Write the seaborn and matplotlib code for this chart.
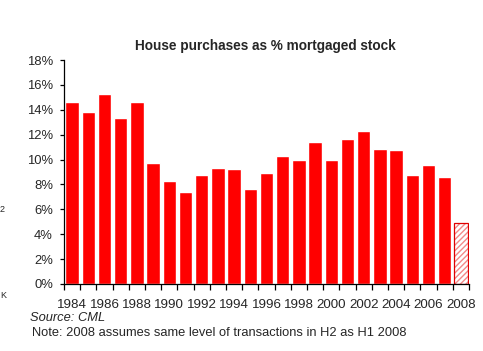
import matplotlib
matplotlib.use("Agg")
import matplotlib.pyplot as plt
import seaborn as sns
import pandas as pd
import numpy as np
from matplotlib.ticker import PercentFormatter, FixedLocator

years = [str(y) for y in range(1984, 2009)]
values = [14.65, 13.85, 15.3, 13.35, 14.65, 9.75, 8.3, 7.42, 8.76, 9.35, 9.25, 7.65,
          8.92, 10.3, 9.97, 11.42, 9.97, 11.66, 12.33, 10.85, 10.77, 8.76, 9.57, 8.63, 4.88]
title = "House purchases as % mortgaged stock"
source = "Source: CML"
note = "Note: 2008 assumes same level of transactions in H2 as H1 2008"

sns.set_style("white")
plt.rcParams['font.family'] = ['Liberation Sans', 'DejaVu Sans']

df = pd.DataFrame({"year": years, "value": values})

fig = plt.figure(figsize=(4.83, 3.51), dpi=100)
ax = fig.add_axes([64/483, 1-284/351, (469-64)/483, (284-60)/351])

sns.barplot(data=df, x="year", y="value", color="#ff0000", saturation=1, width=0.82, ax=ax)

# last bar: hatched estimate
last = ax.patches[-1]
x0, w, h = last.get_x(), last.get_width(), last.get_height()
last.set_facecolor("white")
last.set_edgecolor("#f28a8a")
last.set_hatch("//////")
last.set_linewidth(0)
ax.bar(x0 + w/2, h, width=w, facecolor="none", edgecolor="#e00000", linewidth=0.9)

ax.set_ylim(0, 18)
ax.set_xlim(-0.5, len(years) - 0.5)
ax.yaxis.set_major_locator(FixedLocator(np.arange(0, 19, 2)))
ax.yaxis.set_major_formatter(PercentFormatter(decimals=0))

n = len(years)
ax.set_xticks(np.arange(n + 1) - 0.5)
ax.set_xticklabels([])
ax.set_xticks(np.arange(0, n, 2), minor=True)
ax.set_xticklabels(years[::2], minor=True)
ax.tick_params(axis="x", which="major", length=4, width=0.9, direction="out", bottom=True, color="black")
ax.tick_params(axis="x", which="minor", length=0, labelsize=9.6, pad=10.5, bottom=True)
ax.tick_params(axis="y", length=3, width=0.9, direction="out", left=True, labelsize=9.4, pad=5, color="black")

for s in ["top", "right"]:
    ax.spines[s].set_visible(False)
for s in ["left", "bottom"]:
    ax.spines[s].set_color("black")
    ax.spines[s].set_linewidth(0.9)

ax.set_xlabel("")
ax.set_ylabel("")

fig.text(265/483, 1-46/351, title, ha="center", va="center", fontsize=9.8, fontweight="bold")
fig.text(30/483, 1-318/351, source, ha="left", va="center", fontsize=9.3, style="italic")
fig.text(32/483, 1-333/351, note, ha="left", va="center", fontsize=9.3)
fig.text(0, 1-210/351, "2", ha="left", va="center", fontsize=6.5)
fig.text(0, 1-296/351, "K", ha="left", va="center", fontsize=6.5)

fig.savefig("out.png", dpi=100)
